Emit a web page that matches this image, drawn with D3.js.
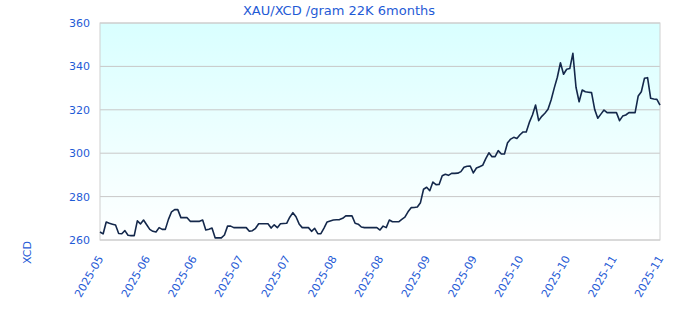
<!DOCTYPE html>
<html>
<head>
<meta charset="utf-8">
<script src="https://cdn.jsdelivr.net/npm/d3@7"></script>
<style>
  body { margin: 0; background: #fff; }
  svg text { font-family: "DejaVu Sans", Verdana, sans-serif; fill: #1f5bd6; }
</style>
</head>
<body>
<svg width="680" height="320"></svg>
<script>
// chart title and axis label
const title = "XAU/XCD /gram 22K 6months";
const yLabel = "XCD";

// one value per day, starting 2025-05-20
const startDate = "2025-05-20";
const prices = [
  263.7, 262.8, 268.3, 267.7, 267.3, 266.9, 263.0, 262.9, 264.3, 262.2,
  262.0, 262.0, 268.8, 267.4, 269.2, 267.0, 264.9, 264.0, 263.7, 265.7,
  264.9, 264.9, 269.5, 273.0, 274.0, 274.0, 270.3, 270.3, 270.3, 268.6,
  268.6, 268.6, 268.6, 269.2, 264.6, 265.0, 265.5, 261.0, 261.0, 261.0,
  262.3, 266.4, 266.4, 265.7, 265.7, 265.7, 265.7, 265.7, 264.0, 264.3,
  265.4, 267.5, 267.5, 267.5, 267.5, 265.5, 267.0, 265.7, 267.5, 267.6,
  267.7, 270.5, 272.6, 270.7, 267.4, 265.7, 265.7, 265.7, 264.0, 265.4,
  262.9, 262.9, 265.5, 268.3, 268.8, 269.2, 269.3, 269.4, 270.0, 271.1,
  271.1, 271.1, 267.7, 267.3, 266.0, 265.7, 265.7, 265.7, 265.7, 265.7,
  264.6, 266.4, 265.7, 269.2, 268.4, 268.4, 268.4, 269.5, 270.5, 273.0,
  274.9, 275.0, 275.2, 277.2, 283.4, 284.3, 282.7, 286.7, 285.5, 285.6,
  289.6, 290.3, 289.8, 290.7, 290.7, 290.8, 291.5, 293.5, 294.0, 294.1,
  290.9, 293.2, 293.8, 294.4, 297.5, 300.2, 298.4, 298.4, 301.2, 299.6,
  299.6, 304.8, 306.5, 307.3, 306.8, 308.5, 309.8, 309.8, 314.2, 317.6,
  322.2, 315.0, 317.0, 318.4, 320.2, 324.5, 330.0, 335.0, 341.7, 336.4,
  338.7, 339.0, 346.0, 330.4, 323.7, 329.1, 328.3, 328.1, 327.9, 320.2,
  316.1, 318.0, 319.9, 318.7, 318.7, 318.7, 318.7, 315.0, 317.1, 317.6,
  318.7, 318.7, 318.7, 326.4, 328.3, 334.5, 334.8, 325.3, 325.0, 324.8,
  322.2
];

// y axis ticks and x tick labels (one every 15 days)
const yTicks = [260, 280, 300, 320, 340, 360];
const xTickLabels = [
  "2025-05", "2025-06", "2025-06", "2025-07", "2025-07", "2025-08", "2025-08",
  "2025-09", "2025-09", "2025-10", "2025-10", "2025-11", "2025-11"
];
const tickStep = 15;

const svg = d3.select("svg");
const margin = {top: 23, right: 20, bottom: 80, left: 100};
const width = +svg.attr("width") - margin.left - margin.right;
const height = +svg.attr("height") - margin.top - margin.bottom;

const parseDate = d3.timeParse("%Y-%m-%d");
const start = parseDate(startDate);
const data = prices.map((v, i) => ({date: d3.timeDay.offset(start, i), value: v}));
const tickDates = xTickLabels.map((d, i) => d3.timeDay.offset(start, i * tickStep));

const x = d3.scaleTime()
  .domain([start, tickDates[tickDates.length - 1]])
  .range([0, width]);
const y = d3.scaleLinear()
  .domain([d3.min(yTicks), d3.max(yTicks)])
  .range([height, 0]);

// background gradient for the plot area
const grad = svg.append("defs").append("linearGradient")
  .attr("id", "bg")
  .attr("x1", 0).attr("y1", 0).attr("x2", 0).attr("y2", 1);
grad.append("stop").attr("offset", "0%").attr("stop-color", "#d9ffff");
grad.append("stop").attr("offset", "100%").attr("stop-color", "#ffffff");

const g = svg.append("g")
  .attr("transform", `translate(${margin.left},${margin.top})`);

g.append("rect")
  .attr("width", width)
  .attr("height", height)
  .attr("fill", "url(#bg)");

// horizontal grid lines
g.append("g")
  .selectAll("line")
  .data(yTicks)
  .enter().append("line")
    .attr("x1", 0)
    .attr("x2", width)
    .attr("y1", d => y(d))
    .attr("y2", d => y(d))
    .attr("stroke", "#c8c8c8")
    .attr("stroke-width", 1);

// plot border
g.append("rect")
  .attr("width", width)
  .attr("height", height)
  .attr("fill", "none")
  .attr("stroke", "#d0d0d0");

// y axis labels
const yAxis = g.append("g")
  .call(d3.axisLeft(y).tickValues(yTicks).tickSize(0).tickPadding(10));
yAxis.select(".domain").remove();
yAxis.selectAll("text")
  .style("font-size", "11px")
  .attr("fill", "#1f5bd6");

// x axis labels, rotated
const xAxis = g.append("g")
  .attr("transform", `translate(0,${height})`)
  .call(d3.axisBottom(x).tickValues(tickDates).tickSize(0).tickFormat((d, i) => xTickLabels[i]));
xAxis.select(".domain").remove();
xAxis.selectAll("text")
  .attr("x", 0)
  .attr("y", 0)
  .attr("dy", "0.35em")
  .attr("transform", "translate(0,16.5) rotate(-60)")
  .style("text-anchor", "end")
  .style("font-size", "11px")
  .attr("fill", "#1f5bd6");

// price line
const line = d3.line()
  .x(d => x(d.date))
  .y(d => y(d.value));

g.append("path")
  .datum(data)
  .attr("fill", "none")
  .attr("stroke", "#14284b")
  .attr("stroke-width", 1.6)
  .attr("stroke-linejoin", "round")
  .attr("d", line);

// title
svg.append("text")
  .attr("x", 339)
  .attr("y", 15)
  .attr("text-anchor", "middle")
  .style("font-size", "13px")
  .text(title);

// y axis title
svg.append("text")
  .attr("transform", "translate(31,241) rotate(-90)")
  .attr("text-anchor", "end")
  .style("font-size", "11px")
  .text(yLabel);
</script>
</body>
</html>
